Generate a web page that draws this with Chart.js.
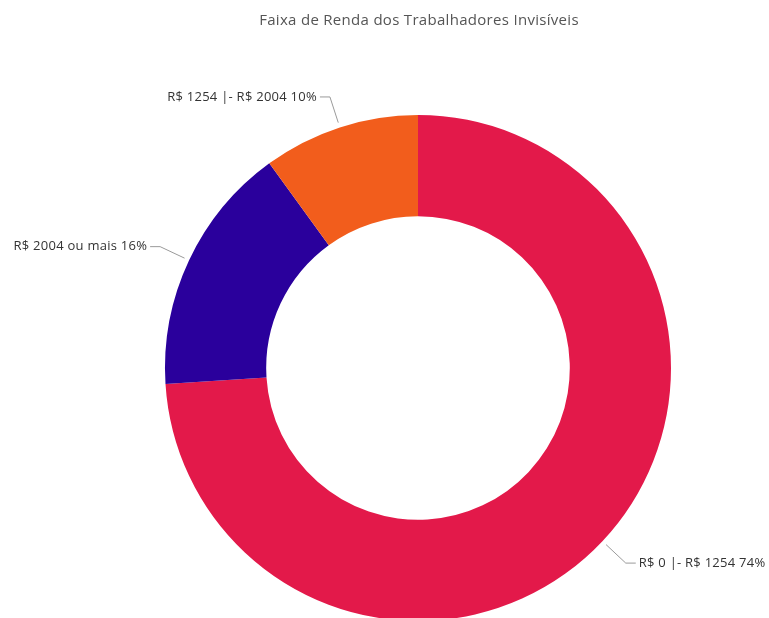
<!DOCTYPE html>
<html>
<head>
<meta charset="utf-8">
<script src="https://cdn.jsdelivr.net/npm/chart.js@4"></script>
<style>
  html, body { margin: 0; padding: 0; background: #fff; }
  #wrap { width: 769px; height: 618px; position: relative; }
</style>
</head>
<body>
<div id="wrap"><canvas id="c" width="769" height="618"></canvas></div>
<script>
const title = 'Faixa de Renda dos Trabalhadores Invisíveis';
const categories = ['R$ 0 |- R$ 1254', 'R$ 2004 ou mais', 'R$ 1254 |- R$ 2004'];
const values = [74, 16, 10];
const colors = ['#E3194A', '#2A009C', '#F25D1C'];

const FONT = '"Open Sans", "Segoe UI", sans-serif';

const labelPlugin = {
  id: 'leaderLabels',
  afterDatasetsDraw(chart) {
    const ctx = chart.ctx;
    const meta = chart.getDatasetMeta(0);
    const total = values.reduce((a, b) => a + b, 0);
    ctx.save();
    meta.data.forEach((arc, i) => {
      const p = arc.getProps(['x', 'y', 'startAngle', 'endAngle', 'outerRadius'], true);
      const mid = (p.startAngle + p.endAngle) / 2;
      const r0 = p.outerRadius + 5;
      const r1 = p.outerRadius + 32;
      const sx = p.x + Math.cos(mid) * r0, sy = p.y + Math.sin(mid) * r0;
      const ex = p.x + Math.cos(mid) * r1, ey = p.y + Math.sin(mid) * r1;
      const right = Math.cos(mid) >= 0;
      const hx = ex + (right ? 10 : -10);
      ctx.strokeStyle = '#9a9a9a';
      ctx.lineWidth = 1;
      ctx.beginPath();
      ctx.moveTo(sx, sy);
      ctx.lineTo(ex, ey);
      ctx.lineTo(hx, ey);
      ctx.stroke();
      ctx.fillStyle = '#333';
      ctx.font = '13px ' + FONT;
      if ('letterSpacing' in ctx) ctx.letterSpacing = '0.25px';
      ctx.textBaseline = 'middle';
      ctx.textAlign = right ? 'left' : 'right';
      const pct = Math.round(values[i] / total * 100);
      ctx.fillText(categories[i] + ' ' + pct + '%', hx + (right ? 3 : -3), ey);
    });
    ctx.fillStyle = '#555';
    ctx.font = '15px ' + FONT;
    if ('letterSpacing' in ctx) ctx.letterSpacing = '0.3px';
    ctx.textAlign = 'center';
    ctx.textBaseline = 'middle';
    ctx.fillText(title, 419, 21);
    ctx.restore();
  }
};

new Chart(document.getElementById('c'), {
  type: 'doughnut',
  data: {
    labels: categories,
    datasets: [{
      data: values,
      backgroundColor: colors,
      borderWidth: 0,
      radius: 253,
      cutout: '60%'
    }]
  },
  options: {
    responsive: false,
    animation: false,
    events: [],
    layout: { padding: { left: 67, right: 0, top: 118, bottom: 0 } },
    plugins: {
      legend: { display: false },
      title: { display: false },
      tooltip: { enabled: false }
    }
  },
  plugins: [labelPlugin]
});
</script>
</body>
</html>
